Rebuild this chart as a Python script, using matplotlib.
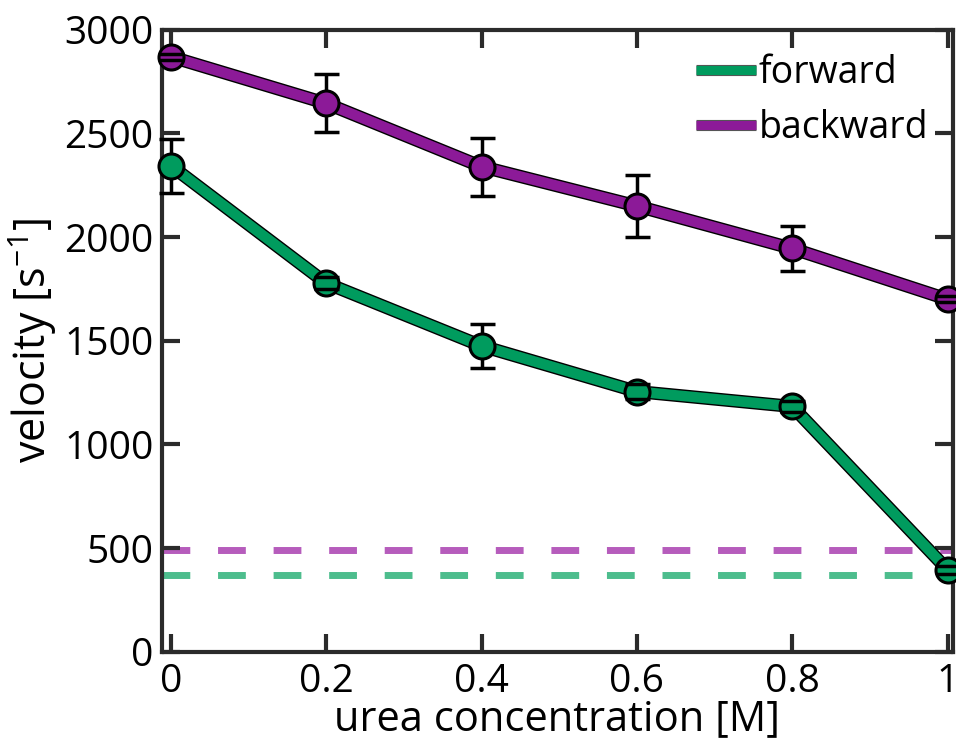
import matplotlib
matplotlib.use("Agg")
import matplotlib.pyplot as plt
import matplotlib.patheffects as pe

plt.rcParams['font.family'] = ['Open Sans', 'DejaVu Sans']

urea = [0, 0.2, 0.4, 0.6, 0.8, 1.0]
forward = [2345, 1778, 1475, 1255, 1183, 395]
forward_err = [130, 30, 105, 35, 25, 20]
backward = [2870, 2645, 2340, 2150, 1945, 1700]
backward_err = [15, 140, 140, 150, 110, 15]
forward_base = 372
backward_base = 490

green = '#009b5e'
purple = '#8c1a98'
green_light = '#4dbd8d'
purple_light = '#b65cbc'

fig = plt.figure(figsize=(9.56, 7.44), dpi=100)
ax = fig.add_axes([0.1695, 0.124, 0.827, 0.836])

# baselines
ax.axhline(backward_base, color=purple_light, lw=5, ls=(0, (4, 4)), zorder=1)
ax.axhline(forward_base, color=green_light, lw=5, ls=(0, (4, 4)), zorder=1)

outline = [pe.Stroke(linewidth=9.5, foreground='black'), pe.Normal()]
for y, err, col, lab in [(forward, forward_err, green, 'forward'),
                         (backward, backward_err, purple, 'backward')]:
    ax.plot(urea, y, color=col, lw=7.5, path_effects=outline, zorder=2,
            label=lab, solid_capstyle='butt', clip_on=False)
    _, caps, bars = ax.errorbar(urea, y, yerr=err, fmt='none', ecolor='black',
                                elinewidth=2.5, capsize=9, capthick=2.5, zorder=3)
    for c in caps:
        c.set_zorder(5)
        c.set_clip_on(False)
    for b in bars:
        b.set_clip_on(False)
    ax.plot(urea, y, 'o', ms=18, mfc=col, mec='black', mew=2.2, zorder=4,
            clip_on=False)

ax.set_xlim(-0.0112, 1.0064)
ax.set_ylim(0, 3000)
ax.set_xticks([0, 0.2, 0.4, 0.6, 0.8, 1])
ax.set_xticklabels(['0', '0.2', '0.4', '0.6', '0.8', '1'])
ax.set_yticks(range(0, 3001, 500))

for s in ax.spines.values():
    s.set_linewidth(3)
    s.set_color('#2b2b2b')
ax.tick_params(direction='in', length=13, width=3, color='#2b2b2b',
               top=True, right=True, labelsize=28, pad=6)
ax.tick_params(axis='x', pad=8)

ax.set_xlabel('urea concentration [M]', fontsize=30, labelpad=-2)
ax.set_ylabel('velocity [s$^{\\mathregular{-1}}$]', fontsize=31, labelpad=4)

leg = ax.legend(loc='upper right', frameon=False, fontsize=27, handlelength=1.6,
                handletextpad=0.08, borderaxespad=0.25, labelspacing=0.45)
for h in leg.get_lines():
    h.set_linewidth(6.5)
    h.set_path_effects([pe.Stroke(linewidth=8, foreground='#555555'), pe.Normal()])

fig.savefig('out.png', dpi=100)
